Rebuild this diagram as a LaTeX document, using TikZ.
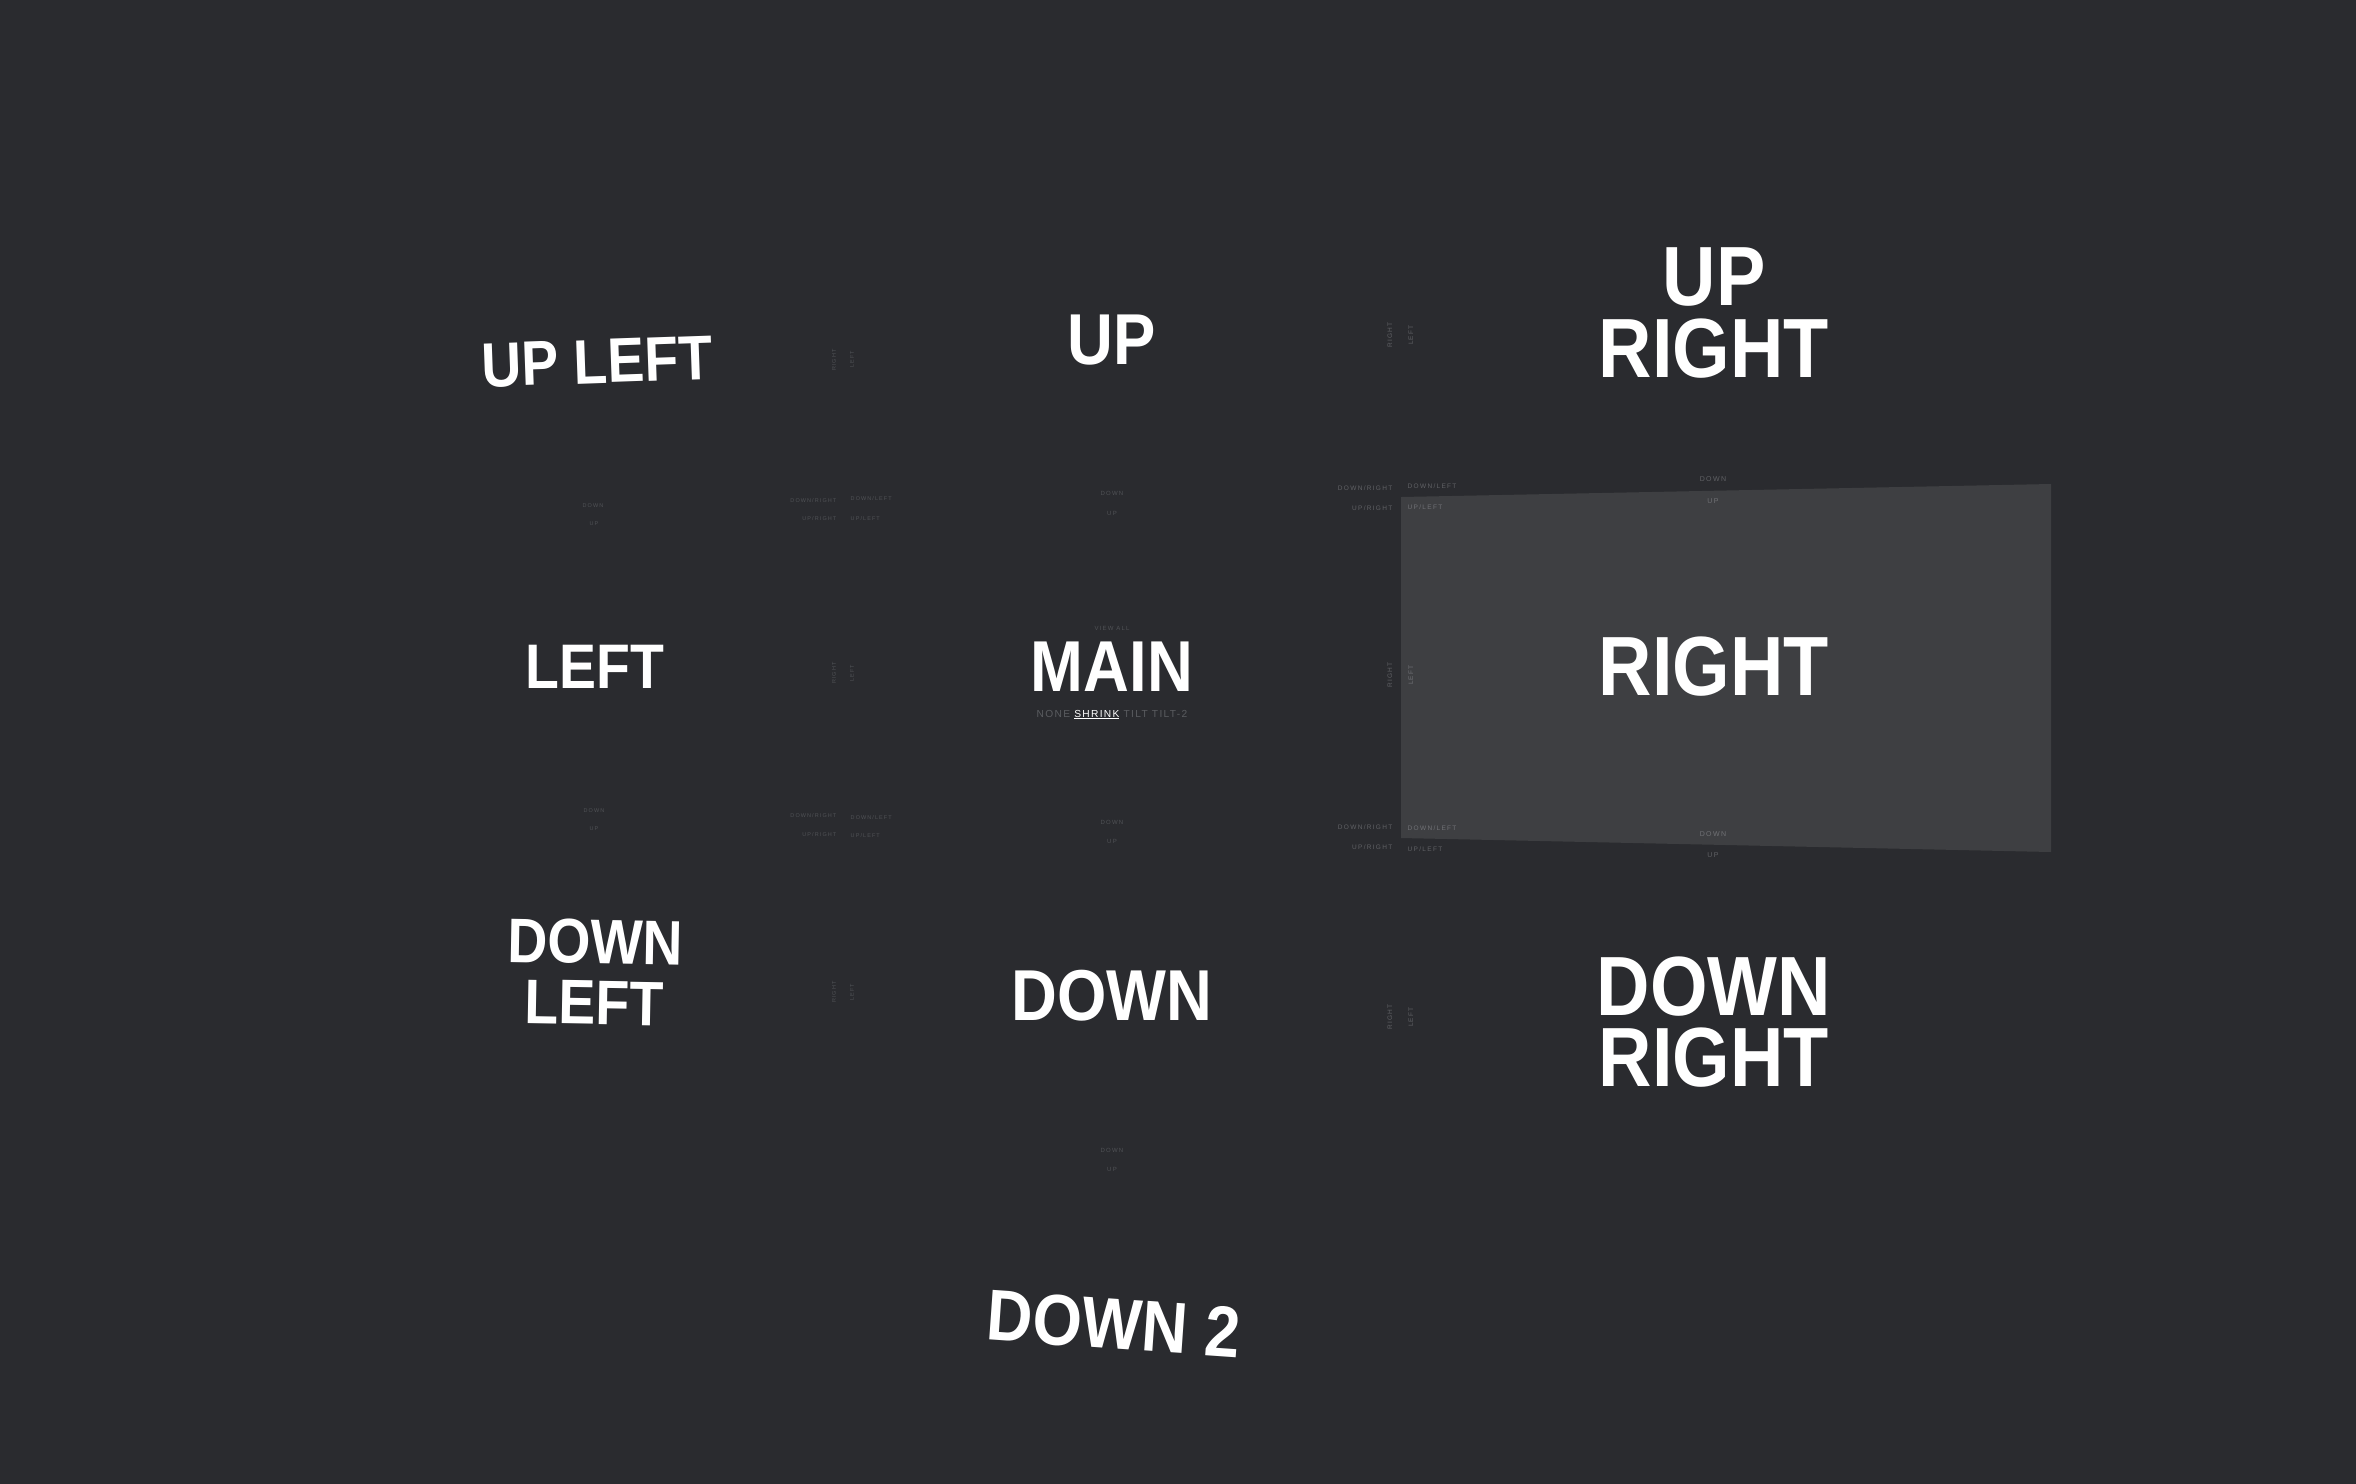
\documentclass[tikz,border=0pt]{standalone}
\usepackage{fontspec}
\setmainfont{Liberation Sans}
\newfontfamily\cellfont[FakeStretch=0.88]{Liberation Sans}
\newfontfamily\tagfont[LetterSpace=20]{Liberation Sans}
\newfontfamily\modefont[LetterSpace=13]{Liberation Sans}
\definecolor{bg}{RGB}{42,43,47}
\definecolor{panel}{RGB}{62,63,66}
\definecolor{tagdim}{RGB}{80,82,86}
\definecolor{tagmid}{RGB}{96,97,101}
\definecolor{tagpanel}{RGB}{112,113,117}
\definecolor{modegrey}{RGB}{90,92,96}
\newcommand\modeline[1]{\setbox0\hbox{#1}\rlap{\rule[-0.45pt]{\wd0}{0.2pt}}\box0}
\tikzset{
  cell/.style={text=white, inner sep=0pt, align=center},
  cellS/.style={cell, font=\cellfont\bfseries\fontsize{17.9pt}{17.3pt}\selectfont},
  cellM/.style={cell, font=\cellfont\bfseries\fontsize{20.5pt}{20pt}\selectfont},
  cellL/.style={cell, font=\cellfont\bfseries\fontsize{23.9pt}{20.4pt}\selectfont},
  tag/.style={text=tagdim, inner sep=0pt},
  tagS/.style={tag, font=\tagfont\fontsize{1.56pt}{2pt}\selectfont},
  tagM/.style={tag, font=\tagfont\fontsize{1.71pt}{2pt}\selectfont},
  tagL/.style={tag, text=tagmid, font=\tagfont\fontsize{1.85pt}{2.2pt}\selectfont},
  tagXL/.style={tag, text=tagmid, font=\tagfont\fontsize{2pt}{2.4pt}\selectfont},
  inpanel/.style={text=tagpanel}
}
\begin{document}
\begin{tikzpicture}[x=0.01cm, y=-0.01cm]
    \fill[bg] (0, 0) rectangle (2356, 1484);
    \useasboundingbox (0, 0) rectangle (2356, 1484);
    \fill[panel] (1401, 497) -- (2051, 484) -- (2051, 852) -- (1401, 838) -- cycle;

    \node[cellS, rotate=2] (ul) at (597, 362) {UP LEFT};
    \node[cellM] (u) at (1112, 340) {UP};
    \node[cellL] (ur) at (1714, 313) {UP\\RIGHT};
    \node[cellS] (l) at (595, 667) {LEFT};
    \node[cellM] (main) at (1112, 667) {MAIN};
    \node[cellL] (r) at (1714, 667) {RIGHT};
    \node[cellS, rotate=-1] (dl) at (595, 972) {DOWN\\LEFT};
    \node[cellM] (d) at (1112, 996) {DOWN};
    \node[cellL] (dr) at (1714, 1022) {DOWN\\RIGHT};
    \node[cellM, rotate=-4] (d2) at (1114, 1324) {DOWN 2};

    \node[tagM] (viewall) at (1112, 628) {VIEW ALL};
    \node[text=modegrey, inner sep=0pt, anchor=base, font=\modefont\fontsize{2.9pt}{3.4pt}\selectfont] (modes) at (1112, 717)
      {NONE \textcolor{white}{\modeline{SHRINK}} TILT TILT-2};

    \node[tagS] (ulD) at (593, 506) {DOWN};
    \node[tagS] (ulU) at (594, 524) {UP};
    \node[tagS, anchor=east] (uDR) at (837, 501) {DOWN/RIGHT};
    \node[tagS, anchor=west] (uDL) at (850, 499) {DOWN/LEFT};
    \node[tagS, anchor=east] (uUR) at (837, 519) {UP/RIGHT};
    \node[tagS, anchor=west] (uUL) at (850, 519) {UP/LEFT};
    \node[tagM] (uD) at (1112, 493) {DOWN};
    \node[tagM] (uU) at (1112, 513) {UP};
    \node[tagL, anchor=east] (urDR) at (1393, 488) {DOWN/RIGHT};
    \node[tagL, anchor=west] (urDL) at (1407, 486) {DOWN/LEFT};
    \node[tagL, anchor=east] (urUR) at (1393, 508) {UP/RIGHT};
    \node[tagL, inpanel, anchor=west] (urUL) at (1407, 507) {UP/LEFT};
    \node[tagXL] (urD) at (1713, 479) {DOWN};
    \node[tagXL, inpanel] (urU) at (1713, 501) {UP};

    \node[tagS] (dlD) at (594, 811) {DOWN};
    \node[tagS] (dlU) at (594, 829) {UP};
    \node[tagS, anchor=east] (dDR) at (837, 816) {DOWN/RIGHT};
    \node[tagS, anchor=west] (dDL) at (850, 818) {DOWN/LEFT};
    \node[tagS, anchor=east] (dUR) at (837, 835) {UP/RIGHT};
    \node[tagS, anchor=west] (dUL) at (850, 836) {UP/LEFT};
    \node[tagM] (dD) at (1112, 822) {DOWN};
    \node[tagM] (dU) at (1112, 841) {UP};
    \node[tagL, anchor=east] (drDR) at (1393, 827) {DOWN/RIGHT};
    \node[tagL, inpanel, anchor=west] (drDL) at (1407, 828) {DOWN/LEFT};
    \node[tagL, anchor=east] (drUR) at (1393, 847) {UP/RIGHT};
    \node[tagL, anchor=west] (drUL) at (1407, 849) {UP/LEFT};
    \node[tagXL, inpanel] (drD) at (1713, 834) {DOWN};
    \node[tagXL] (drU) at (1713, 855) {UP};

    \node[tagM] (d2D) at (1112, 1150) {DOWN};
    \node[tagM] (d2U) at (1112, 1169) {UP};

    \node[tagS, rotate=90] (ulR) at (834, 360) {RIGHT};
    \node[tagS, rotate=90] (uL) at (852, 359) {LEFT};
    \node[tagS, rotate=90] (lR) at (834, 673) {RIGHT};
    \node[tagS, rotate=90] (mainL) at (852, 673) {LEFT};
    \node[tagS, rotate=90] (dlR) at (834, 992) {RIGHT};
    \node[tagS, rotate=90] (dL) at (852, 992) {LEFT};
    \node[tagL, rotate=90] (uR) at (1390, 335) {RIGHT};
    \node[tagL, rotate=90] (urL) at (1411, 335) {LEFT};
    \node[tagL, rotate=90] (mainR) at (1390, 675) {RIGHT};
    \node[tagL, inpanel, rotate=90] (rL) at (1411, 675) {LEFT};
    \node[tagL, rotate=90] (dR) at (1390, 1017) {RIGHT};
    \node[tagL, rotate=90] (drL) at (1411, 1017) {LEFT};
  \end{tikzpicture}
\end{document}
